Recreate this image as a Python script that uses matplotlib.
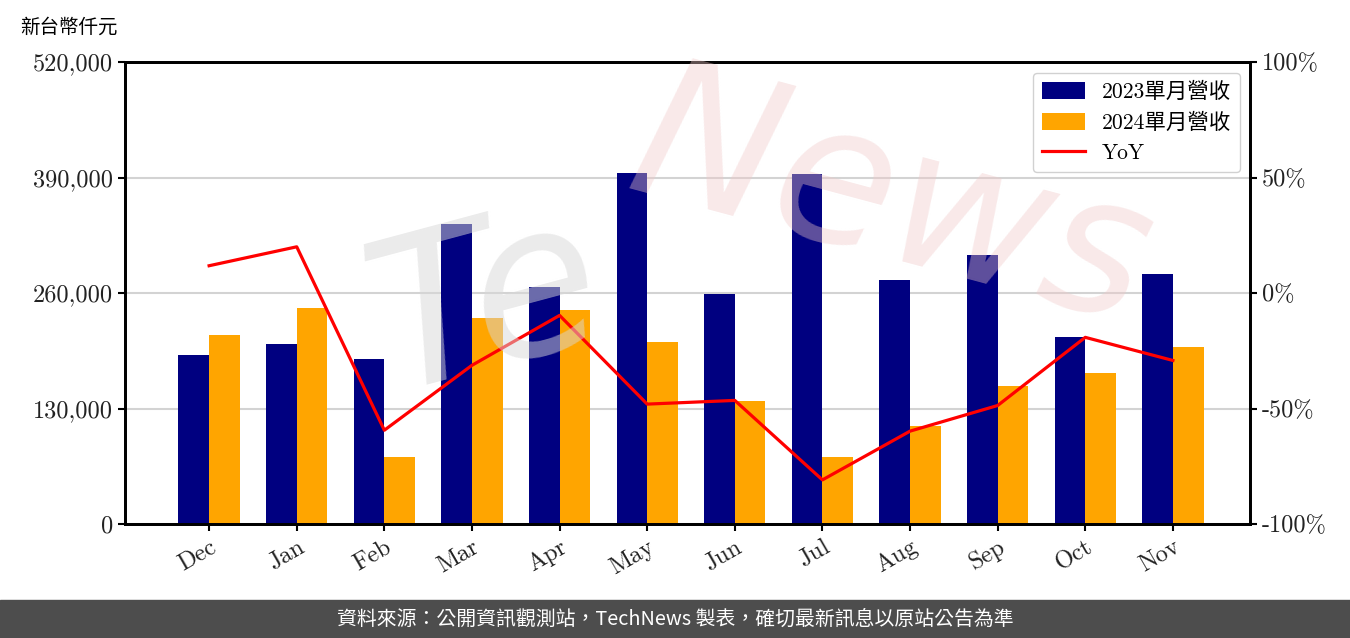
import numpy as np
import matplotlib
matplotlib.use('Agg')
import matplotlib.pyplot as plt
from matplotlib.ticker import FuncFormatter

months = ['Dec', 'Jan', 'Feb', 'Mar', 'Apr', 'May', 'Jun', 'Jul', 'Aug', 'Sep', 'Oct', 'Nov']
rev_2023 = [190200, 202600, 185700, 337700, 266800, 395100, 258900, 393900, 274600, 302800, 210500, 281400]
rev_2024 = [212700, 243100, 75400, 231900, 240900, 204800, 138400, 75400, 110300, 155300, 170000, 199200]
yoy = [11.8, 20.0, -59.4, -31.3, -9.7, -48.1, -46.5, -80.9, -59.8, -48.7, -19.2, -29.2]

left_ticks = [0, 130000, 260000, 390000, 520000]
right_ticks = [-100, -50, 0, 50, 100]

plt.rcParams['font.family'] = ['cmr10', 'Noto Sans CJK TC']
plt.rcParams['axes.unicode_minus'] = False

fig = plt.figure(figsize=(13.5, 6.38), dpi=100)
ax = fig.add_axes([125 / 1350, 1 - 524 / 638, 1125 / 1350, 462 / 638])
ax2 = ax.twinx()

x = np.arange(len(months))
w = 0.35
ax.bar(x - w / 2, rev_2023, w, color='#000080', label='2023單月營收', zorder=2)
ax.bar(x + w / 2, rev_2024, w, color='#ffa500', label='2024單月營收', zorder=2)
line, = ax2.plot(x, yoy, color='#ff0000', lw=2.3, label='YoY')

ax.set_xlim(-0.96, 11.88)
ax.set_ylim(0, 520000)
ax.set_yticks(left_ticks)
ax.yaxis.set_major_formatter(FuncFormatter(lambda v, p: f'{int(v):,}'))
ax.grid(axis='y', color='#d3d3d3', lw=1.5, zorder=0)
ax.set_axisbelow(True)
ax.set_xticks(x)
ax.set_xticklabels(months, rotation=30, ha='right', rotation_mode='anchor')

ax2.set_ylim(-100, 100)
ax2.set_yticks(right_ticks)
ax2.set_yticklabels([f'{t}%' for t in right_ticks])

for a in (ax, ax2):
    a.tick_params(labelsize=17.5, width=1.5, length=5, labelcolor='#222222')
    for s in a.spines.values():
        s.set_linewidth(2)

ax.set_zorder(ax2.get_zorder() - 1)
ax.patch.set_visible(False)
ax2.patch.set_visible(False)

# faint watermark
fig.text(0.36, 0.52, 'Te', fontsize=150, color='#d8d8d8', rotation=15,
         ha='center', va='center', style='italic', zorder=5, alpha=0.5,
         family='DejaVu Sans')
fig.text(0.66, 0.68, 'News', fontsize=140, color='#f0c8c8', rotation=-15,
         ha='center', va='center', style='italic', zorder=5, alpha=0.4,
         family='DejaVu Sans')

h1, l1 = ax.get_legend_handles_labels()
leg = fig.legend(h1 + [line], l1 + ['YoY'], loc='upper right', fontsize=15.5,
                 bbox_to_anchor=(1240 / 1350, 1 - 73 / 638), borderaxespad=0,
                 framealpha=0.9, edgecolor='#cccccc',
                 handlelength=2.0, handleheight=0.8, borderpad=0.4)
leg.set_zorder(10)

fig.text(20 / 1350, 1 - 27 / 638, '新台幣仟元', fontsize=14, va='center', ha='left',
         family=['Noto Sans CJK TC'])

fig.patches.append(plt.Rectangle((0, 0), 1, 38 / 638, transform=fig.transFigure,
                                 color='#4d4d4d', zorder=0))
fig.text(0.5, 19 / 638, '資料來源：公開資訊觀測站，TechNews 製表，確切最新訊息以原站公告為準',
         color='white', fontsize=14.3, ha='center', va='center',
         family=['Noto Sans CJK TC'])

fig.savefig('out.png', dpi=100)
